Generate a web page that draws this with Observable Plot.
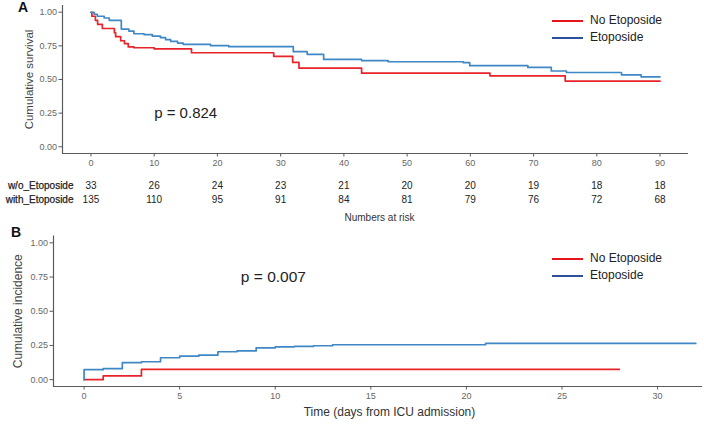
<!DOCTYPE html>
<html>
<head>
<meta charset="utf-8">
<script src="https://cdn.jsdelivr.net/npm/d3@7"></script>
<script src="https://cdn.jsdelivr.net/npm/@observablehq/plot@0.6"></script>
<style>
  html, body { margin: 0; padding: 0; background: #fff; }
  #wrap { position: relative; width: 704px; height: 424px; overflow: hidden; font-family: "Liberation Sans", Arial, sans-serif; }
  #wrap svg { display: block; }
  .legend { position: absolute; left: 552px; font-size: 12px; color: #222; line-height: 17px; }
  .legend div { display: flex; align-items: center; height: 17px; }
  .legend span.sw { display: inline-block; width: 31px; height: 2px; margin-right: 7px; }
  .panel { position: absolute; font-weight: bold; font-size: 14px; color: #111; }
</style>
</head>
<body>
<div id="wrap">
  <div id="chartA"></div>
  <div id="chartB"></div>
</div>
<script>
// ---------- Data ----------
const seriesNames = ["No Etoposide", "Etoposide"];
const lineColors = ["#e8232a", "#3f88c5"];
const legendColors = ["#e8141b", "#2e4f9c"];

// Panel A: Kaplan-Meier cumulative survival
const survNoTime  = [0, 0.15, 0.7, 1.05, 1.8, 3.7, 3.9, 4.7, 5.3, 5.9, 6.8, 10, 15.9, 28.9, 31.9, 32.9, 42.8, 63.1, 75, 90];
const survNoValue = [1.0, 0.97, 0.94, 0.91, 0.879, 0.848, 0.818, 0.788, 0.766, 0.742, 0.736, 0.727, 0.699, 0.672, 0.627, 0.584, 0.547, 0.527, 0.488, 0.488];
const survEtoTime  = [0, 0.5, 1, 2.1, 2.9, 4.8, 6.0, 6.8, 8.4, 9.7, 11, 11.8, 12.6, 13.7, 14.6, 18.9, 21.8, 32, 34.2, 36.8, 42.8, 47, 58.9, 59.9, 69.1, 72.8, 75.2, 83.9, 87, 90];
const survEtoValue = [1.0, 0.985, 0.97, 0.957, 0.94, 0.875, 0.86, 0.84, 0.834, 0.823, 0.811, 0.796, 0.784, 0.771, 0.761, 0.752, 0.744, 0.707, 0.687, 0.649, 0.641, 0.632, 0.625, 0.603, 0.59, 0.563, 0.552, 0.535, 0.52, 0.52];

const riskTimes = [0, 10, 20, 30, 40, 50, 60, 70, 80, 90];
const riskNo    = [33, 26, 24, 23, 21, 20, 20, 19, 18, 18];
const riskEto   = [135, 110, 95, 91, 84, 81, 79, 76, 72, 68];
const riskLabels = ["w/o_Etoposide", "with_Etoposide"];

const xTicksA = [0, 10, 20, 30, 40, 50, 60, 70, 80, 90];
const yTicks  = [0, 0.25, 0.5, 0.75, 1.0];
const xDomainA = [-4.5, 94.5];
const yDomain  = [-0.05, 1.05];
const pA = [{x: 10, y: 0.25, label: "p = 0.824"}];

// Panel B: cumulative incidence
const incNoTime  = [0, 1, 3, 28];
const incNoValue = [0, 0.027, 0.075, 0.075];
const incEtoTime  = [0, 0, 1, 2, 3, 4, 5, 6, 7, 8, 9, 10, 11, 12, 13, 21, 32];
const incEtoValue = [0, 0.073, 0.08, 0.124, 0.131, 0.16, 0.172, 0.18, 0.204, 0.21, 0.233, 0.24, 0.243, 0.248, 0.255, 0.265, 0.265];
const xTicksB = [0, 5, 10, 15, 20, 25, 30];
const xDomainB = [-1.6, 32.35];
const pB = [{x: 8.2, y: 0.75, label: "p = 0.007"}];

// ---------- Build tables ----------
const toRows = (ts, vs, s) => ts.map((t, i) => ({t, v: vs[i], s}));
const survRows = [...toRows(survNoTime, survNoValue, seriesNames[0]), ...toRows(survEtoTime, survEtoValue, seriesNames[1])];
const incRows  = [...toRows(incNoTime, incNoValue, seriesNames[0]), ...toRows(incEtoTime, incEtoValue, seriesNames[1])];
const riskNoRows  = riskTimes.map((t, i) => ({t, n: riskNo[i]}));
const riskEtoRows = riskTimes.map((t, i) => ({t, n: riskEto[i]}));

const font = '"Liberation Sans", Arial, sans-serif';
const axisColor = "#5a5a5a";
const tickText = "#666";
const M = {lineAnchor: "middle"};

// ---------- Panel A ----------
const chartA = Plot.plot({
  width: 704, height: 226,
  marginLeft: 62, marginRight: 16, marginTop: 5, marginBottom: 73,
  style: {fontFamily: font, fontSize: "9px", color: axisColor, background: "white", overflow: "visible"},
  x: {domain: xDomainA},
  y: {domain: yDomain},
  color: {domain: seriesNames, range: lineColors},
  marks: [
    Plot.ruleY([yDomain[0]], {stroke: axisColor, strokeWidth: 1.2}),
    Plot.ruleX([xDomainA[0]], {stroke: axisColor, strokeWidth: 1.2}),
    Plot.axisX({ticks: xTicksA, tickSize: 3.5, tickPadding: 2.5, fontSize: 9, fill: tickText, stroke: axisColor, label: null}),
    Plot.axisY({ticks: yTicks, tickSize: 3.5, tickPadding: 2, tickFormat: d3.format(".2f"), fontSize: 9, fill: tickText, stroke: axisColor, label: null}),
    Plot.line(survRows, {x: "t", y: "v", z: "s", stroke: "s", curve: "step-after", strokeWidth: 1.7}),
    Plot.text(pA, {x: "x", y: "y", text: "label", textAnchor: "start", fontSize: 15, fill: "#222"}),
    Plot.text(["Cumulative survival"], {...M, frameAnchor: "left", textAnchor: "middle", rotate: -90, dx: -33, fontSize: 11.5, fill: "#444"}),
    Plot.text(riskNoRows, {...M, x: "t", text: "n", frameAnchor: "bottom", textAnchor: "middle", dy: 32, fontSize: 10, fill: "#222"}),
    Plot.text(riskEtoRows, {...M, x: "t", text: "n", frameAnchor: "bottom", textAnchor: "middle", dy: 46, fontSize: 10, fill: "#222"}),
    Plot.text([riskLabels[0]], {...M, frameAnchor: "bottom-left", dx: 11, dy: 32, textAnchor: "end", fontSize: 10, fill: "#222", stroke: "#222", strokeWidth: 0.25}),
    Plot.text([riskLabels[1]], {...M, frameAnchor: "bottom-left", dx: 11, dy: 46, textAnchor: "end", fontSize: 10, fill: "#222", stroke: "#222", strokeWidth: 0.25}),
    Plot.text(["Numbers at risk"], {...M, frameAnchor: "bottom", textAnchor: "middle", dx: 4, dy: 64, fontSize: 10, fill: "#333"})
  ]
});
document.getElementById("chartA").appendChild(chartA);

// ---------- Panel B ----------
const chartB = Plot.plot({
  width: 704, height: 198,
  marginLeft: 53, marginRight: 2, marginTop: 9.5, marginBottom: 38,
  style: {fontFamily: font, fontSize: "9px", color: axisColor, background: "white", overflow: "visible"},
  x: {domain: xDomainB},
  y: {domain: yDomain},
  color: {domain: seriesNames, range: lineColors},
  marks: [
    Plot.ruleY([yDomain[0]], {stroke: axisColor, strokeWidth: 1.2}),
    Plot.ruleX([xDomainB[0]], {stroke: axisColor, strokeWidth: 1.2}),
    Plot.axisX({ticks: xTicksB, tickSize: 3.5, tickPadding: 2.5, fontSize: 9, fill: tickText, stroke: axisColor, label: null}),
    Plot.axisY({ticks: yTicks, tickSize: 3.5, tickPadding: 2, tickFormat: d3.format(".2f"), fontSize: 9, fill: tickText, stroke: axisColor, label: null}),
    Plot.line(incRows, {x: "t", y: "v", z: "s", stroke: "s", curve: "step-after", strokeWidth: 1.7}),
    Plot.text(pB, {x: "x", y: "y", text: "label", textAnchor: "start", fontSize: 15.5, fill: "#222"}),
    Plot.text(["Cumulative incidence"], {...M, frameAnchor: "left", textAnchor: "middle", rotate: -90, dx: -35, fontSize: 12, fill: "#444"}),
    Plot.text(["Time (days from ICU admission)"], {...M, frameAnchor: "bottom", textAnchor: "middle", dx: 11.5, dy: 26, fontSize: 12, fill: "#333"})
  ]
});
document.getElementById("chartB").appendChild(chartB);

// ---------- Panel letters and legends ----------
const wrap = document.getElementById("wrap");
function addLegend(top) {
  const lg = document.createElement("div");
  lg.className = "legend";
  lg.style.top = top + "px";
  seriesNames.forEach((name, i) => {
    const row = document.createElement("div");
    const sw = document.createElement("span");
    sw.className = "sw";
    sw.style.background = legendColors[i];
    row.appendChild(sw);
    row.appendChild(document.createTextNode(name));
    lg.appendChild(row);
  });
  wrap.appendChild(lg);
}
addLegend(12);
addLegend(250);
function addLetter(txt, left, top) {
  const d = document.createElement("div");
  d.className = "panel";
  d.textContent = txt;
  d.style.left = left + "px";
  d.style.top = top + "px";
  wrap.appendChild(d);
}
addLetter("A", 18, -1);
addLetter("B", 11, 224);
</script>
</body>
</html>
